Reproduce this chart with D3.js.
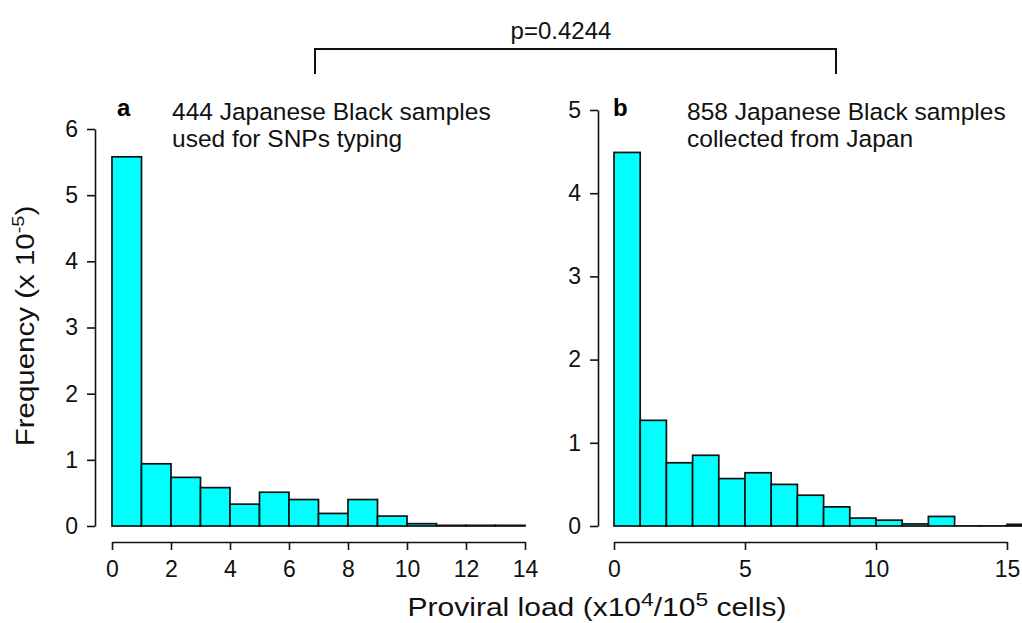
<!DOCTYPE html>
<html>
<head>
<meta charset="utf-8">
<script src="https://cdn.jsdelivr.net/npm/d3@7"></script>
<style>
  body { margin: 0; background: #fff; }
  svg { display: block; font-family: "Liberation Sans", Arial, sans-serif; }
</style>
</head>
<body>
<div id="chart"></div>
<script>
// panel a: 444 samples, bins of width 1
const binStartA = [0, 1, 2, 3, 4, 5, 6, 7, 8, 9, 10, 11, 12, 13]
const freqA = [5.58, 0.94, 0.735, 0.58, 0.33, 0.51, 0.40, 0.19, 0.40, 0.15, 0.035, 0.01, 0.01, 0.01]
const xTicksA = [0, 2, 4, 6, 8, 10, 12, 14]
const yTicksA = [0, 1, 2, 3, 4, 5, 6]

// panel b: 858 samples
const binStartB = [0, 1, 2, 3, 4, 5, 6, 7, 8, 9, 10, 11, 12, 13, 14, 15]
const freqB = [4.49, 1.27, 0.76, 0.85, 0.57, 0.64, 0.50, 0.37, 0.23, 0.095, 0.07, 0.025, 0.115, 0, 0, 0.02]
const xTicksB = [0, 5, 10, 15]
const yTicksB = [0, 1, 2, 3, 4, 5]

const pLabel = 'p=0.4244'

const width = 1022, height = 623

const svg = d3.select('#chart').append('svg')
    .attr('width', width)
    .attr('height', height)

function panel(opts) {
    const xS = d3.scaleLinear().domain(opts.xDomain).range(opts.xRange)
    const yS = d3.scaleLinear().domain(opts.yDomain).range([526, opts.yTop])
    const g = svg.append('g')

    // empty bins still get drawn as a flat outline, like R's hist()
    g.selectAll('rect')
        .data(opts.starts)
        .enter()
        .append('rect')
        .attr('x', d => xS(d))
        .attr('width', d => xS(d + 1) - xS(d))
        .attr('y', (_, i) => Math.min(yS(opts.freq[i]), yS(0) - 0.1))
        .attr('height', (_, i) => Math.max(yS(0) - yS(opts.freq[i]), 0.1))
        .style('fill', '#00ffff')
        .style('stroke', '#111')
        .style('stroke-width', 1.7)

    const yAx = g.append('g')
        .attr('transform', 'translate(' + opts.yAxisX + ', 0)')
        .call(d3.axisLeft(yS).tickValues(opts.yTicks).tickFormat(d3.format('d'))
            .tickSize(8).tickSizeOuter(0).tickPadding(9))
    const xAx = g.append('g')
        .attr('transform', 'translate(0, 542)')
        .call(d3.axisBottom(xS).tickValues(opts.xTicks).tickFormat(d3.format('d'))
            .tickSize(8).tickSizeOuter(0).tickPadding(11))

    for (const ax of [xAx, yAx]) {
        ax.attr('font-size', 23).attr('font-family', null)
        ax.selectAll('path, line').style('stroke', '#111').style('stroke-width', 1.6)
        ax.selectAll('text').style('fill', '#111')
    }

    g.append('text')
        .attr('x', opts.tagX).attr('y', 116)
        .attr('font-size', 24).attr('font-weight', 'bold')
        .text(opts.tag)
    const note = g.append('text')
        .attr('font-size', 24.5).style('fill', '#111')
    opts.note.forEach((line, i) => {
        note.append('tspan')
            .attr('x', opts.noteX).attr('y', 120 + i * 27)
            .text(line)
    })
}

panel({
    starts: binStartA, freq: freqA, xTicks: xTicksA, yTicks: yTicksA,
    xDomain: [0, 14], xRange: [112, 525], yDomain: [0, 6], yTop: 129,
    yAxisX: 95, tag: 'a', tagX: 117, noteX: 172,
    note: ['444 Japanese Black samples', 'used for SNPs typing']
})
panel({
    starts: binStartB, freq: freqB, xTicks: xTicksB, yTicks: yTicksB,
    xDomain: [0, 15], xRange: [614, 1007], yDomain: [0, 5], yTop: 110,
    yAxisX: 598, tag: 'b', tagX: 613, noteX: 687,
    note: ['858 Japanese Black samples', 'collected from Japan']
})

// y title (the source figure's text is a bit stretched sideways)
const yTitle = svg.append('text')
    .attr('transform', 'translate(34, 326) rotate(-90) scale(1.18, 1)')
    .attr('text-anchor', 'middle')
    .attr('font-size', 25).style('fill', '#111')
yTitle.append('tspan').text('Frequency (x 10')
yTitle.append('tspan').attr('font-size', 17).attr('dy', -10).text('-5')
yTitle.append('tspan').attr('dy', 10).text(')')

// x title
const xTitle = svg.append('text')
    .attr('transform', 'translate(597, 616) scale(1.2, 1)')
    .attr('text-anchor', 'middle')
    .attr('font-size', 25).style('fill', '#111')
xTitle.append('tspan').text('Proviral load (x10')
xTitle.append('tspan').attr('font-size', 19).attr('dy', -10).text('4')
xTitle.append('tspan').attr('dy', 10).text('/10')
xTitle.append('tspan').attr('font-size', 19).attr('dy', -10).text('5')
xTitle.append('tspan').attr('dy', 10).text(' cells)')

// comparison bracket
svg.append('path')
    .attr('d', 'M315,74V49H836V74')
    .style('fill', 'none').style('stroke', '#111').style('stroke-width', 2)
svg.append('text')
    .attr('x', 561).attr('y', 39)
    .attr('text-anchor', 'middle')
    .attr('font-size', 24).style('fill', '#111')
    .text(pLabel)
</script>
</body>
</html>
